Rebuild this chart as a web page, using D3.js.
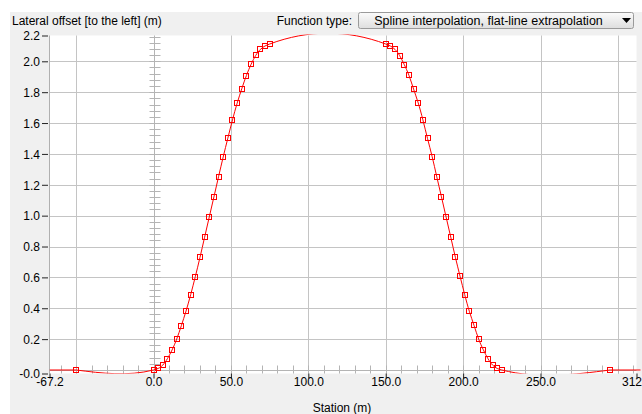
<!DOCTYPE html>
<html lang="en">
<head>
<meta charset="UTF-8">
<title>Lateral offset</title>
<script src="https://d3js.org/d3.v7.min.js"></script>
<style>
    body { margin: 0; background: #fff; }
    svg text { font-family: "Liberation Sans", Arial, sans-serif; font-size: 12px; fill: #000; }
</style>
</head>
<body>
<svg width="642" height="414"></svg>
<script>
// control points (station m, lateral offset m)
const stations = [-50,
    0, 3, 6, 9, 12, 15, 18, 21, 24, 27, 30, 33, 36, 39, 42, 45, 48, 51, 54, 57, 60, 63, 66, 69, 72, 75,
    150, 153, 156, 159, 162, 165, 168, 171, 174, 177, 180, 183, 186, 189, 192, 195, 198, 201, 204, 207, 210, 213, 216, 219, 222, 225,
    295];
const offsets = [0,
    0.000, 0.010, 0.032, 0.074, 0.130, 0.201, 0.288, 0.382, 0.488, 0.605, 0.729, 0.860, 0.991, 1.121, 1.252, 1.380, 1.502, 1.620, 1.728, 1.822, 1.908, 1.980, 2.038, 2.077, 2.099, 2.112,
    2.112, 2.099, 2.077, 2.037, 1.978, 1.909, 1.820, 1.730, 1.621, 1.500, 1.382, 1.251, 1.122, 0.991, 0.861, 0.730, 0.608, 0.489, 0.381, 0.290, 0.201, 0.132, 0.074, 0.032, 0.010, 0.000,
    0];

const xDomain = [-67.2, 312.0];
const yDomain = [-0.0227, 2.1672];
const xTickValues = [-67.2, 0, 50, 100, 150, 200, 250, 312.0];
const yTickValues = [-0.0227, 0.2, 0.4, 0.6, 0.8, 1.0, 1.2, 1.4, 1.6, 1.8, 2.0, 2.1672];
const xGridValues = [-50, 50, 100, 150, 200, 250, 300];
const yGridValues = [0.2, 0.4, 0.6, 0.8, 1.0, 1.2, 1.4, 1.6, 1.8, 2.0];

const width = 642, height = 414;
const plot = { left: 49.5, right: 636.5, top: 35.5, bottom: 373.5 };

const svg = d3.select("svg");
const x = d3.scaleLinear().domain(xDomain).range([plot.left, plot.right]);
const y = d3.scaleLinear().domain(yDomain).range([plot.bottom, plot.top]);
const px = v => Math.round(x(v)) + 0.5;
const py = v => Math.round(y(v)) + 0.5;

// natural cubic spline in x, emitted as bezier segments
function SplineX(context) { this._context = context; }
SplineX.prototype = {
    areaStart() {}, areaEnd() {},
    lineStart() { this._px = []; this._py = []; },
    point(a, b) { this._px.push(+a); this._py.push(+b); },
    lineEnd() {
        const X = this._px, Y = this._py, n = X.length, ctx = this._context;
        if (!n) return;
        ctx.moveTo(X[0], Y[0]);
        if (n < 3) { if (n === 2) ctx.lineTo(X[1], Y[1]); return; }
        const h = [], M = new Array(n).fill(0);
        for (let i = 0; i < n - 1; i++) h.push(X[i + 1] - X[i]);
        const a = [], b = [], c = [], d = [];
        for (let i = 1; i < n - 1; i++) {
            a.push(h[i - 1]); b.push(2 * (h[i - 1] + h[i])); c.push(h[i]);
            d.push(6 * ((Y[i + 1] - Y[i]) / h[i] - (Y[i] - Y[i - 1]) / h[i - 1]));
        }
        const m = b.length;
        for (let i = 1; i < m; i++) {
            const w = a[i] / b[i - 1];
            b[i] -= w * c[i - 1]; d[i] -= w * d[i - 1];
        }
        M[m] = d[m - 1] / b[m - 1];
        for (let i = m - 2; i >= 0; i--) M[i + 1] = (d[i] - c[i] * M[i + 2]) / b[i];
        for (let i = 0; i < n - 1; i++) {
            const s = (Y[i + 1] - Y[i]) / h[i];
            const d0 = s - h[i] * (2 * M[i] + M[i + 1]) / 6;
            const d1 = s + h[i] * (M[i] + 2 * M[i + 1]) / 6;
            ctx.bezierCurveTo(X[i] + h[i] / 3, Y[i] + d0 * h[i] / 3,
                              X[i + 1] - h[i] / 3, Y[i + 1] - d1 * h[i] / 3, X[i + 1], Y[i + 1]);
        }
    }
};
const curveSplineX = ctx => new SplineX(ctx);

// background panels
svg.append("rect").attr("width", width).attr("height", height).attr("fill", "#fff");
svg.append("rect").attr("x", 10).attr("y", 12).attr("width", width - 10).attr("height", height - 12).attr("fill", "#f0f0f0");
svg.append("rect").attr("x", plot.left).attr("y", plot.top)
    .attr("width", plot.right - plot.left).attr("height", plot.bottom - plot.top).attr("fill", "#fff");

// grid
const grid = svg.append("g").attr("stroke", "#c4c4c4").attr("stroke-width", 1);
grid.selectAll(".gx").data(xGridValues).join("line")
    .attr("x1", px).attr("x2", px).attr("y1", plot.top).attr("y2", plot.bottom);
grid.selectAll(".gy").data(yGridValues).join("line")
    .attr("x1", plot.left).attr("x2", plot.right).attr("y1", py).attr("y2", py);

// zero lines with ruler ticks
const zero = svg.append("g").attr("stroke", "#b4b4b4").attr("stroke-width", 1);
zero.append("line").attr("x1", px(0)).attr("x2", px(0)).attr("y1", plot.top).attr("y2", plot.bottom);
zero.append("line").attr("x1", plot.left).attr("x2", plot.right).attr("y1", py(0)).attr("y2", py(0));
zero.selectAll(".ry").data(d3.range(0, yDomain[1], 0.04)).join("line")
    .attr("x1", px(0) - 5).attr("x2", px(0) + 6).attr("y1", py).attr("y2", py);
zero.selectAll(".rx").data(d3.range(-60, xDomain[1], 10)).join("line")
    .attr("x1", px).attr("x2", px).attr("y1", py(0) - 5).attr("y2", plot.bottom);

// left border
svg.append("line").attr("x1", plot.left).attr("x2", plot.left)
    .attr("y1", plot.top).attr("y2", plot.bottom).attr("stroke", "#b0b0b0");

// axes
const fmt = v => v.toFixed(1);
const yAxis = svg.append("g").attr("transform", `translate(${plot.left - 1.5},0)`)
    .call(d3.axisLeft(y).tickValues(yTickValues).tickFormat(fmt).tickSize(6).tickPadding(2));
const xAxis = svg.append("g").attr("transform", `translate(0,${plot.bottom})`)
    .call(d3.axisBottom(x).tickValues(xTickValues).tickFormat(fmt).tickSize(5));
[yAxis, xAxis].forEach(g => {
    g.select(".domain").remove();
    g.attr("font-family", null).attr("font-size", null);
    g.selectAll(".tick line").attr("stroke", "#222");
});
xAxis.selectAll(".tick text").attr("y", 12.5).attr("dy", null);
yAxis.selectAll(".tick text").attr("dy", "0.36em");

// curve
const pts = stations.map((s, i) => [s, offsets[i]]);
svg.append("clipPath").attr("id", "clip").append("rect")
    .attr("x", plot.left).attr("y", plot.top - 1)
    .attr("width", plot.right - plot.left + 4).attr("height", plot.bottom - plot.top + 1);
const curves = svg.append("g").attr("clip-path", "url(#clip)");
const line = d3.line().x(d => x(d[0])).y(d => y(d[1]));
curves.append("path").datum(pts)
    .attr("d", line.curve(curveSplineX))
    .attr("fill", "none").attr("stroke", "#ff0000").attr("stroke-width", 1);
const flat = d3.line().x(d => x(d[0])).y(d => y(d[1]));
curves.append("path")
    .datum([[xDomain[0], offsets[0]], [stations[0], offsets[0]]])
    .attr("d", flat).attr("fill", "none").attr("stroke", "#ff0000");
curves.append("path")
    .datum([[stations[stations.length - 1], offsets[offsets.length - 1]], [xDomain[1] + 3, offsets[offsets.length - 1]]])
    .attr("d", flat).attr("fill", "none").attr("stroke", "#ff0000");

// markers
svg.append("g").selectAll("rect").data(pts).join("rect")
    .attr("x", d => Math.round(x(d[0])) - 2.5)
    .attr("y", d => Math.round(y(d[1])) - 2.5)
    .attr("width", 5).attr("height", 5)
    .attr("fill", "none").attr("stroke", "#ff0000");

// titles
svg.append("text").attr("x", 12).attr("y", 25).text("Lateral offset [to the left] (m)");
svg.append("text").attr("x", 342).attr("y", 412).attr("text-anchor", "middle").text("Station (m)");
svg.append("text").attr("x", 352).attr("y", 25).attr("text-anchor", "end").text("Function type:");

// dropdown
const grad = svg.append("defs").append("linearGradient").attr("id", "btn")
    .attr("x1", 0).attr("y1", 0).attr("x2", 0).attr("y2", 1);
grad.append("stop").attr("offset", "0%").attr("stop-color", "#fbfbfb");
grad.append("stop").attr("offset", "100%").attr("stop-color", "#dedede");
svg.append("rect").attr("x", 358.5).attr("y", 12.5).attr("width", 275).attr("height", 16).attr("rx", 2)
    .attr("fill", "url(#btn)").attr("stroke", "#9a9a9a");
svg.append("text").attr("x", 488.5).attr("y", 25).attr("text-anchor", "middle")
    .style("font-size", "12.5px").text("Spline interpolation, flat-line extrapolation");
svg.append("path").attr("d", d3.line()([[622, 18], [631, 18], [626.5, 23]]) + "Z").attr("fill", "#000");
</script>
</body>
</html>
